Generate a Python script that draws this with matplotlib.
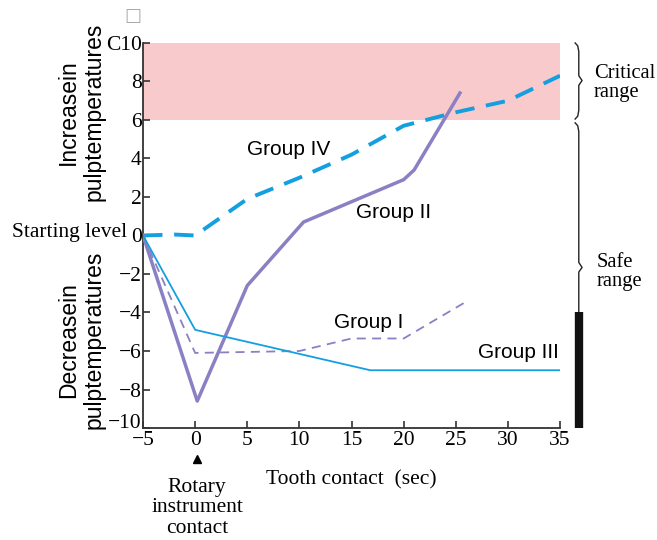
import numpy as np
import matplotlib.pyplot as plt
import matplotlib.transforms as mtransforms

# Data
g4_x = [-5, -2, 0, 5, 10, 15, 17, 20, 25, 30, 35]
g4_y = [0, 0.05, 0, 1.9, 3.0, 4.2, 4.8, 5.7, 6.4, 7.0, 8.3]

g2_x = [-5, 0.2, 5, 10.4, 20, 21, 25.4]
g2_y = [0, -8.6, -2.6, 0.7, 2.9, 3.4, 7.4]

g1_x = [-5, 0, 10, 15, 20, 25.8]
g1_y = [0, -6.1, -6.0, -5.35, -5.35, -3.5]

g3_x = [-5, 0, 16.8, 35]
g3_y = [0, -4.9, -7.0, -7.0]

yticks = list(range(-10, 11, 2))
ytick_labels = ['\u221210', '\u22128', '\u22126', '\u22124', '\u22122', '0', '2', '4', '6', '8', 'C10']
xticks = list(range(-5, 36, 5))
xtick_labels = ['\u22125'] + [str(t) for t in xticks[1:]]

cyan = '#139fe0'
purple = '#8a80c4'
serif = 'Liberation Serif'
sans = 'Liberation Sans'

fig = plt.figure(figsize=(6.57, 5.40), dpi=100)
ax = fig.add_axes([0.2177, 0.2074, 0.6347, 0.713])
ax.set_xlim(-5, 35)
ax.set_ylim(-10, 10)

# critical zone
ax.axhspan(6, 10, color='#f9cacb', zorder=0, lw=0)

ax.plot(g4_x, g4_y, color=cyan, lw=2.8, dashes=(5, 3), zorder=3)
ax.plot(g2_x, g2_y, color=purple, lw=2.5, zorder=3)
ax.plot(g1_x, g1_y, color=purple, lw=1.3, dashes=(5, 3.5), zorder=3)
ax.plot(g3_x, g3_y, color=cyan, lw=1.3, zorder=3)

for s in ['top', 'right']:
    ax.spines[s].set_visible(False)
for s in ['left', 'bottom']:
    ax.spines[s].set_color('#333333')
    ax.spines[s].set_linewidth(1.3)

ax.set_xticks(xticks)
ax.set_xticklabels(xtick_labels, fontfamily=serif, fontsize=15.5)
ax.set_yticks(yticks)
ax.set_yticklabels(ytick_labels, fontfamily=serif, fontsize=15.5)
ax.tick_params(direction='in', length=5, width=1.2, color='#333333', pad=1)
ax.tick_params(axis='x', pad=2)
# lift the -10 label a little, as in the reference
lab = ax.get_yticklabels()[0]
lab.set_transform(lab.get_transform() +
                  mtransforms.ScaledTranslation(0, 7 / 100, fig.dpi_scale_trans))

# group labels
tk = dict(fontfamily=sans, fontsize=15, ha='center', va='center')
ax.text(9.0, 4.47, 'Group IV', **tk)
ax.text(19.0, 1.2, 'Group II', **tk)
ax.text(16.6, -4.5, 'Group I', **tk)
ax.text(31.0, -6.1, 'Group III', **tk)

# missing-glyph box over the unit
fig.text(133 / 657, 1 - 16 / 540, '\u25a1', fontfamily='DejaVu Sans', fontsize=13,
         color='#aaaaaa', ha='center', va='center')

fig.text(127 / 657, 1 - 232 / 540, 'Starting level', fontfamily=serif, fontsize=15.5,
         ha='right', va='center')

fig.text(81 / 657, 1 - 112 / 540, 'Increasein\npulptemperatures', fontfamily=sans,
         fontsize=16.5, rotation=90, ha='center', va='center', linespacing=1.15)
fig.text(81 / 657, 1 - 340 / 540, 'Decreasein\npulptemperatures', fontfamily=sans,
         fontsize=16.5, rotation=90, ha='center', va='center', linespacing=1.15)

fig.text(351 / 657, 1 - 480 / 540, 'Tooth contact  (sec)', fontfamily=serif,
         fontsize=15.5, ha='center', va='center')
fig.text(197 / 657, 1 - 508 / 540, 'Rotary\ninstrument\ncontact', fontfamily=serif,
         fontsize=15.5, ha='center', va='center', linespacing=1.12)

# small arrowhead under the 0 tick
ax.plot([0.2], [-11.6], marker='^', color='black', ms=6, clip_on=False)

# braces on the right
bx = 36.8
def brace(y_top, y_bot, y_tip):
    w = 0.35
    xs = [bx - w, bx - 0.1, bx, bx, bx + w * 0.9, bx, bx, bx - 0.1, bx - w]
    ys = [y_top, y_top - 0.15, y_top - 0.45, y_tip + 0.25, y_tip, y_tip - 0.25,
          y_bot + 0.45, y_bot + 0.15, y_bot]
    ax.plot(xs, ys, color='#222222', lw=1.0, clip_on=False)

brace(10.0, 6.05, 8.05)
# safe range: upper half curls, then straight line down to the black bar
w = 0.35
ax.plot([bx - w, bx - 0.1, bx, bx, bx + w * 0.9, bx, bx],
        [5.85, 5.7, 5.4, -1.4, -1.66, -1.9, -3.95], color='#222222', lw=1.0,
        clip_on=False)
ax.plot([bx, bx], [-3.95, -10], color='#111111', lw=6, solid_capstyle='butt',
        clip_on=False)

fig.text(594 / 657, 1 - 83 / 540, 'Critical\nrange', fontfamily=serif, fontsize=14.8,
         ha='left', va='center', linespacing=1.05)
fig.text(597 / 657, 1 - 272 / 540, 'Safe\nrange', fontfamily=serif, fontsize=14.8,
         ha='left', va='center', linespacing=1.05)

fig.savefig('out.png', dpi=100)
